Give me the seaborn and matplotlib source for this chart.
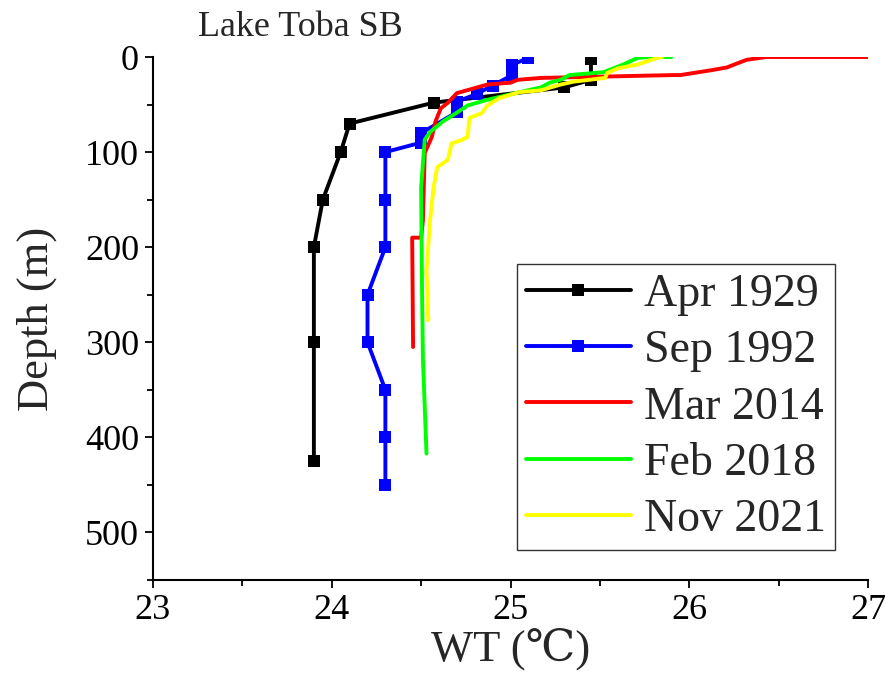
import matplotlib
matplotlib.use("Agg")
import matplotlib.pyplot as plt
import seaborn as sns
import pandas as pd

# ---------------- data ----------------
apr1929_t = [25.45, 25.45, 25.30, 24.57, 24.10, 24.05, 23.95, 23.90, 23.90, 23.90]
apr1929_d = [2, 24, 32, 48, 70, 100, 150, 200, 300, 425]

sep1992_t = [25.10, 25.01, 25.01, 24.90, 24.81, 24.70, 24.70, 24.50, 24.50, 24.30,
             24.30, 24.30, 24.20, 24.20, 24.30, 24.30, 24.30]
sep1992_d = [1, 8, 19, 30, 39, 47, 58, 80, 90, 100, 150, 200, 250, 300, 350, 400, 450]

mar2014_t = [27.00, 26.43, 26.32, 26.21, 26.12, 25.95, 25.91, 25.17, 25.04, 25.00,
             24.87, 24.70, 24.65, 24.61, 24.58, 24.56, 24.52, 24.51, 24.50, 24.45, 24.455]
mar2014_d = [0, 0, 3, 11, 14, 19, 19, 22, 24, 27,
             29, 38, 48, 54, 68, 84, 101, 172, 190, 190, 305]

feb2018_t = [25.90, 25.78, 25.71, 25.63, 25.52, 25.33, 25.28, 25.22, 25.17, 25.05,
             24.87, 24.76, 24.68, 24.62, 24.55, 24.52, 24.50, 24.505, 24.51, 24.53]
feb2018_d = [0, 0, 1, 8, 16, 19, 24, 27, 32, 37,
             45, 51, 61, 68, 79, 87, 137, 242, 317, 417]

nov2021_t = [25.85, 25.82, 25.71, 25.60, 25.54, 25.53, 25.35, 25.28, 25.17, 25.05,
             24.94, 24.87, 24.84, 24.77, 24.76, 24.73, 24.67, 24.65, 24.59, 24.57,
             24.55, 24.53, 24.54]
nov2021_d = [0, 1, 8, 12, 17, 22, 26, 29, 35, 37,
             43, 51, 59, 64, 84, 87, 91, 108, 116, 137,
             172, 224, 277]

labels = ["Apr 1929", "Sep 1992", "Mar 2014", "Feb 2018", "Nov 2021"]
colors = ["#000000", "#0000ff", "#ff0000", "#00ff00", "#ffff00"]
x_ticks = [23, 24, 25, 26, 27]
y_ticks = [0, 100, 200, 300, 400, 500]

# ---------------- plot ----------------
sns.set_style("ticks")
plt.rcParams["font.family"] = ["Liberation Serif", "DejaVu Serif", "Noto Sans CJK SC"]

fig = plt.figure(figsize=(8.85, 6.75), dpi=100)
ax = fig.add_axes([153 / 885, 1 - 580 / 675, 715 / 885, 523 / 675])

series = [
    (apr1929_t, apr1929_d, "s"),
    (sep1992_t, sep1992_d, "s"),
    (mar2014_t, mar2014_d, None),
    (feb2018_t, feb2018_d, None),
    (nov2021_t, nov2021_d, None),
]
for (t, d, m), lab, c in zip(series, labels, colors):
    df = pd.DataFrame({"WT": t, "Depth": d})
    kw = dict(marker=m, markersize=9, markeredgewidth=0) if m else {}
    sns.lineplot(data=df, x="WT", y="Depth", sort=False, estimator=None,
                 color=c, linewidth=2.8, label=lab, ax=ax, **kw)

ax.set_xlim(23, 27)
ax.set_ylim(550, 0)
ax.set_xticks(x_ticks)
ax.set_yticks(y_ticks)
ax.set_xticks([23.5, 24.5, 25.5, 26.5], minor=True)
ax.set_yticks([50, 150, 250, 350, 450, 550], minor=True)
ax.tick_params(axis="both", which="major", direction="out", length=6, width=1.3,
               labelsize=26, color="black", labelcolor="black", pad=4)
ax.tick_params(axis="both", which="minor", direction="out", length=4, width=1.3,
               color="black")
for s in ["top", "right"]:
    ax.spines[s].set_visible(False)
for s in ["left", "bottom"]:
    ax.spines[s].set_linewidth(1.5)
    ax.spines[s].set_color("black")

ax.set_xlabel("WT (℃)", fontsize=32, labelpad=1)
ax.set_ylabel("Depth (m)", fontsize=32, labelpad=20)

leg = ax.legend(loc="lower right", bbox_to_anchor=(0.954, 0.057), borderaxespad=0,
                fontsize=33, frameon=True, fancybox=False, edgecolor="black",
                handlelength=2.3, handletextpad=0.28, labelspacing=0.3,
                borderpad=0.2, numpoints=1)
leg.get_frame().set_linewidth(1.0)

fig.text(198 / 885, 1 - 28 / 675, "Lake Toba SB", fontsize=26, ha="left", va="center")

fig.savefig("out.png", dpi=100, facecolor="white")
